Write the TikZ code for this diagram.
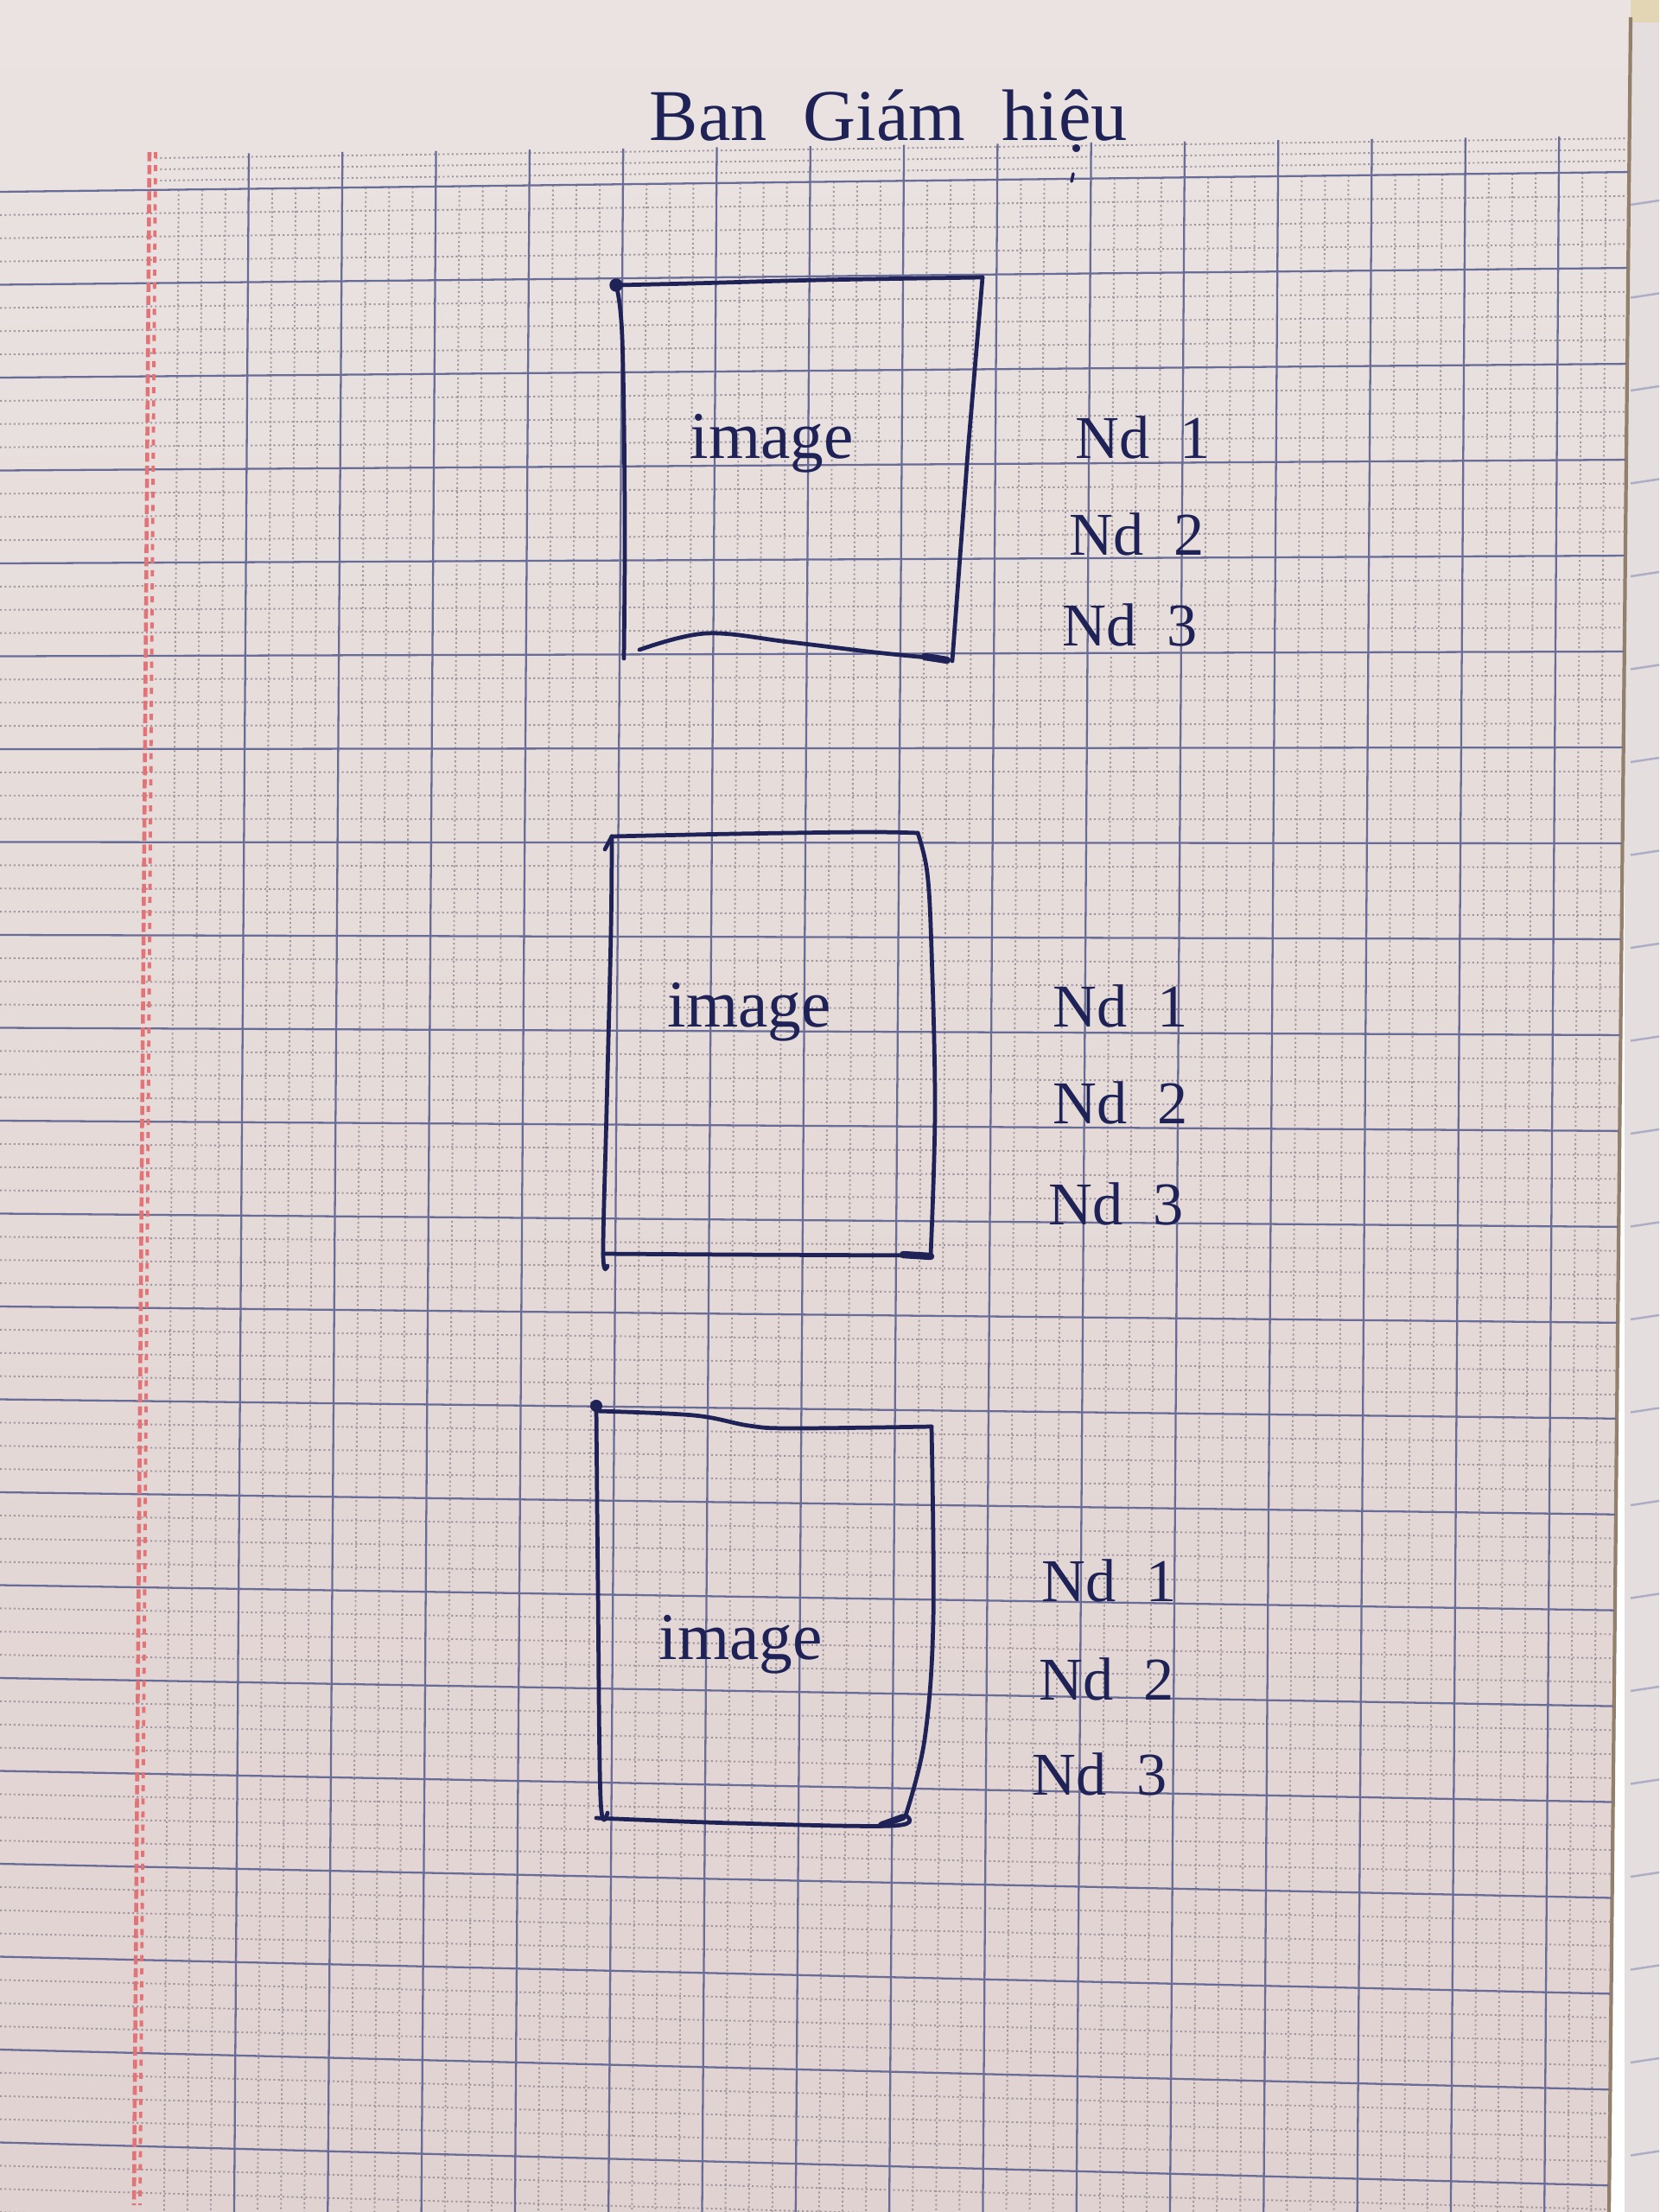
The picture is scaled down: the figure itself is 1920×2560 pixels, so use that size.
\documentclass[tikz,border=0pt]{standalone}
\usepackage{fontspec}
\newfontfamily\hand{Liberation Serif}[WordSpace=2]
\definecolor{papertop}{HTML}{EAE3E1}
\definecolor{paperbot}{HTML}{E0D2D0}
\definecolor{nextpage}{HTML}{E4DEDF}
\definecolor{cornerbeige}{HTML}{E3D6B4}
\definecolor{gridblue}{HTML}{6A6C98}
\definecolor{griddot}{HTML}{A0969F}
\definecolor{marginred}{HTML}{E27377}
\definecolor{inkblue}{HTML}{1F2256}
\begin{document}
\begin{tikzpicture}[x=0.01cm,y=-0.01cm,
  ink/.style={draw=inkblue,line width=1.35pt,line cap=round,line join=round},
  majorline/.style={draw=gridblue,line width=0.65pt},
  minorline/.style={draw=griddot,line width=0.55pt,dash pattern=on 0.6pt off 0.9pt},
  titletext/.style={font=\hand\fontsize{24}{28}\selectfont,text=inkblue,inner sep=0pt,anchor=base west},
  imgtext/.style={font=\hand\fontsize{22}{26}\selectfont,text=inkblue,inner sep=0pt,anchor=base},
  ndtext/.style={font=\hand\fontsize{20}{24}\selectfont,text=inkblue,inner sep=0pt,anchor=base},
]
\useasboundingbox (0,0) rectangle (1920,2560);
\clip (0,0) rectangle (1920,2560);

% paper of the neighbouring page and of this page
\fill[nextpage] (1880,0) rectangle (1920,2560);
\fill[cornerbeige] (1884,0) rectangle (1920,26);
\foreach \k in {0,...,22} {
  \draw[gridblue!55,line width=0.7pt] (1887,{237+107.5*\k}) -- (1920,{232+107.5*\k});
}
\shade[top color=papertop,bottom color=paperbot]
  (0,0) -- (1887,0) -- (1862,2560) -- (0,2560) -- cycle;
\draw[gray!70!brown,line width=1.2pt] (1887,20) -- (1862,2560);

% ruled grid of the notebook page
\begin{scope}
  \clip (0,0) -- (1886,0) -- (1861,2560) -- (0,2560) -- cycle;
  % dotted strip above the first heavy line
  \foreach \d in {13,26,39} {
    \draw[minorline] (180,{222-\d}) -- (1890,{199-\d});
  }
  % dotted horizontal lines
  \foreach \k in {0,...,22} {
    \foreach \m in {1,2,3} {
      \draw[minorline] (0,{222+107.5*\k+26.875*\m}) -- (1890,{199+111*\k+27.75*\m});
    }
  }
  % dotted vertical lines
  \foreach \j in {-1,...,14} {
    \foreach \m in {1,2,3} {
      \draw[minorline] ({288+108.3*\j+27.075*\m},{222-0.0122*(288+108.3*\j+27.075*\m)})
        -- ({271+108.3*\j+27.075*\m},2560);
    }
  }
  % heavy horizontal lines
  \foreach \k in {0,...,22} {
    \draw[majorline] (0,{222+107.5*\k}) -- (1890,{199+111*\k});
  }
  % heavy vertical lines
  \foreach \j in {0,...,14} {
    \draw[majorline] ({288+108.3*\j},{181-0.0127*(288+108.3*\j)}) -- ({271+108.3*\j},2560);
  }
  % red margin
  \draw[marginred,line width=1.3pt,dash pattern=on 3pt off 1.3pt] (173,176) -- (155,2552);
  \draw[marginred,line width=1.1pt,dash pattern=on 2pt off 2.3pt] (180,176) -- (162,2552);
\end{scope}

% heading
\node[titletext] (title) at (751,162) {Ban Giám hiệu};
\draw[ink,line width=1pt] (1242,201) -- (1240,210);

% first frame
\draw[ink] plot[smooth,tension=0.6] coordinates {(713,330) (800,328) (950,324) (1137,321)};
\draw[ink] (1137,321) -- (1120,523) -- (1102,765);
\draw[ink] plot[smooth,tension=0.6] coordinates {(713,330) (720,390) (723,590) (722,762)};
\draw[ink] plot[smooth,tension=0.6] coordinates {(740,752) (817,733) (913,743) (1013,755) (1095,763)};
\draw[ink,line width=2.4pt] (1070,760) -- (1096,764);
\fill[inkblue] (713,330) circle (2.2pt);
\node[imgtext] (img1) at (893,530) {image};
\node[ndtext] (nd11) at (1323,530) {Nd 1};
\node[ndtext] (nd12) at (1316,642) {Nd 2};
\node[ndtext] (nd13) at (1308,747) {Nd 3};

% second frame
\draw[ink] (700,983) -- (708,968);
\draw[ink] plot[smooth,tension=0.6] coordinates {(708,968) (850,965) (1000,963) (1062,964)};
\draw[ink] plot[smooth,tension=0.6] coordinates {(1062,964) (1073,1010) (1078,1100) (1082,1284) (1077,1453)};
\draw[ink] plot[smooth,tension=0.6] coordinates {(708,968) (707,1078) (702,1284) (698,1450) (703,1465)};
\draw[ink] plot[smooth,tension=0.6] coordinates {(698,1451) (850,1452) (1077,1453)};
\draw[ink,line width=2.4pt] (1045,1452) -- (1077,1454);
\node[imgtext] (img2) at (867,1188) {image};
\node[ndtext] (nd21) at (1297,1188) {Nd 1};
\node[ndtext] (nd22) at (1297,1300) {Nd 2};
\node[ndtext] (nd23) at (1292,1417) {Nd 3};

% third frame
\fill[inkblue] (690,1627) circle (2pt);
\draw[ink] plot[smooth,tension=0.6] coordinates {(690,1633) (803,1638) (867,1650) (917,1653) (1078,1651)};
\draw[ink] plot[smooth,tension=0.6] coordinates {(1078,1651) (1080,1875) (1070,2013) (1048,2101)};
\draw[ink] plot[smooth,tension=0.6] coordinates {(690,1626) (692,1841) (695,2082) (703,2098)};
\draw[ink] plot[smooth,tension=0.6] coordinates {(690,2104) (850,2110) (1033,2113) (1048,2101)};
\draw[ink,line width=2.2pt] (1020,2112) -- (1045,2103);
\node[imgtext] (img3) at (857,1920) {image};
\node[ndtext] (nd31) at (1284,1853) {Nd 1};
\node[ndtext] (nd32) at (1281,1967) {Nd 2};
\node[ndtext] (nd33) at (1273,2077) {Nd 3};
\end{tikzpicture}
\end{document}
